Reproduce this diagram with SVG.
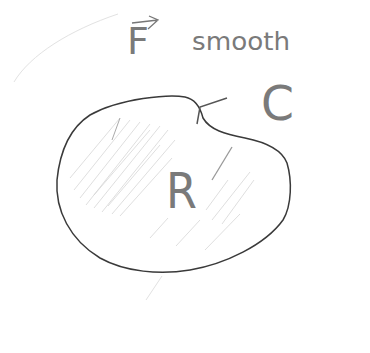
<svg xmlns="http://www.w3.org/2000/svg" width="370" height="353" viewBox="0 0 370 353">
<style>
.txt{font-family:"DejaVu Sans",sans-serif;fill:#7a7a7a;}
.hatch{stroke:#d6d6d6;stroke-width:0.8;fill:none;}
.faint{stroke:#e2e2e2;stroke-width:1;fill:none;}
</style>
<rect width="370" height="353" fill="#fff"/>
<g id="background">
<path class="faint" d="M14,82 C30,55 70,30 118,14"/>
<path class="faint" d="M146,300 L162,276"/>
</g>
<g id="hatching">
<path class="hatch" d="M70,178 L120,118 M74,190 L130,120 M80,198 L140,122 M86,205 L150,124 M94,208 L160,126 M102,212 L168,130 M112,214 L175,140 M120,216 L172,158 M94,195 L150,130 M108,206 L160,145 M206,210 L228,180 M212,220 L250,172 M222,224 L254,180 M150,238 L168,218 M176,246 L200,220 M205,250 L240,214"/>
<path d="M112,140 L120,118" stroke="#aaa" stroke-width="1" fill="none"/>
<path d="M212,180 L232,147" stroke="#999" stroke-width="1.3" fill="none"/>
</g>
<g id="region-R">
<path d="M185,97 C170,94 120,98 90,115 C70,128 60,150 57,180 C55,210 70,240 100,258 C125,272 160,275 190,270 C225,264 265,245 283,220 C292,205 292,180 287,163 C282,150 265,142 245,138 C225,134 210,130 203,118 C200,106 195,99 185,97 Z" fill="none" stroke="#3a3a3a" stroke-width="1.5"/>
<text class="txt" x="166" y="208" font-size="50" textLength="31" lengthAdjust="spacingAndGlyphs">R</text>
</g>
<g id="label-F">
<text class="txt" x="127" y="54" font-size="38">F</text>
<path d="M132,23 L158,20 M149,16 L158,20 L148,29" stroke="#777" stroke-width="1.3" fill="none"/>
<text class="txt" x="192" y="50" font-size="24" textLength="98" lengthAdjust="spacingAndGlyphs">smooth</text>
</g>
<g id="connectors">
<path d="M227,98 L200,107 L197,124" stroke="#555" stroke-width="1.5" fill="none"/>
</g>
<g id="label-C">
<text class="txt" x="261" y="120" font-size="48" textLength="33" lengthAdjust="spacingAndGlyphs">C</text>
</g>
</svg>
